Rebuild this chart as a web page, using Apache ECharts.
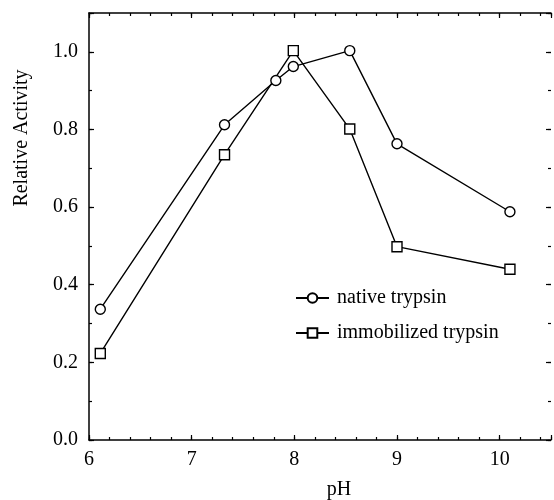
<!DOCTYPE html>
<html>
<head>
<meta charset="utf-8">
<script src="https://cdn.jsdelivr.net/npm/echarts@6/dist/echarts.min.js"></script>
<style>html,body{margin:0;padding:0;background:#fff}#c{width:554px;height:500px}</style>
</head>
<body>
<div id="c"></div>
<script>
var nativePH = [6.11, 7.32, 7.82, 7.99, 8.54, 9.0, 10.1];
var nativeActivity = [0.337, 0.812, 0.926, 0.962, 1.003, 0.763, 0.588];
var immobPH = [6.11, 7.32, 7.99, 8.54, 9.0, 10.1];
var immobActivity = [0.223, 0.735, 1.003, 0.801, 0.498, 0.44];
var seriesNames = ['native trypsin', 'immobilized trypsin'];
var xTitle = 'pH';
var yTitle = 'Relative Activity';

var FONT = '"Liberation Serif", "DejaVu Serif", serif';
function pairs(xs, ys) { return xs.map(function (x, i) { return [x, ys[i]]; }); }

function xAx(pos, interval, len, showLine, labels) {
  return {
    type: 'value', position: pos, min: 6, max: 10.5, interval: interval,
    axisLine: { show: showLine, onZero: false, lineStyle: { color: '#000', width: 1.5 } },
    axisTick: { show: true, inside: true, length: len, lineStyle: { color: '#000', width: 1.2 } },
    axisLabel: labels ? {
      show: true, margin: 10, color: '#000', fontFamily: FONT, fontSize: 20,
      formatter: function (v) { return v > 10.05 ? '' : String(Math.round(v)); }
    } : { show: false },
    splitLine: { show: false }
  };
}
function yAx(pos, interval, len, showLine, labels) {
  return {
    type: 'value', position: pos, min: 0, max: 1.1, interval: interval,
    axisLine: { show: showLine, onZero: false, lineStyle: { color: '#000', width: 1.5 } },
    axisTick: { show: true, inside: true, length: len, lineStyle: { color: '#000', width: 1.2 } },
    axisLabel: labels ? {
      show: true, margin: 11, color: '#000', fontFamily: FONT, fontSize: 20,
      formatter: function (v) { return v > 1.05 ? '' : v.toFixed(1); }
    } : { show: false },
    splitLine: { show: false }
  };
}

var chart = echarts.init(document.getElementById('c'), null, { renderer: 'canvas' });
chart.setOption({
  backgroundColor: '#fff',
  animation: false,
  grid: { left: 89, top: 13, right: 0, bottom: 60, containLabel: false },
  xAxis: [
    xAx('bottom', 1, 5, true, true),
    xAx('bottom', 0.2, 3, false, false),
    xAx('top', 1, 5, true, false),
    xAx('top', 0.2, 3, false, false)
  ],
  yAxis: [
    yAx('left', 0.2, 5, true, true),
    yAx('left', 0.1, 3, false, false),
    yAx('right', 0.2, 5, false, false),
    yAx('right', 0.1, 3, false, false)
  ],
  legend: {
    orient: 'vertical', left: 290, top: 283,
    itemWidth: 33, itemHeight: 12, itemGap: 15,
    data: seriesNames,
    textStyle: { color: '#000', fontFamily: FONT, fontSize: 20, padding: [0, 0, 0, 3] }
  },
  graphic: [
    { type: 'text', x: 22, y: 138, rotation: Math.PI / 2,
      style: { text: yTitle, fill: '#000', font: '20px ' + FONT, textAlign: 'center', textVerticalAlign: 'middle' } },
    { type: 'text', x: 339, y: 490,
      style: { text: xTitle, fill: '#000', font: '20px ' + FONT, textAlign: 'center', textVerticalAlign: 'middle' } }
  ],
  series: [
    { name: seriesNames[0], type: 'line', xAxisIndex: 0, yAxisIndex: 0,
      data: pairs(nativePH, nativeActivity),
      symbol: 'circle', symbolSize: 10,
      lineStyle: { color: '#000', width: 1.4 },
      itemStyle: { color: '#fff', borderColor: '#000', borderWidth: 1.4 } },
    { name: seriesNames[1], type: 'line', xAxisIndex: 0, yAxisIndex: 0,
      data: pairs(immobPH, immobActivity),
      symbol: 'rect', symbolSize: 10,
      lineStyle: { color: '#000', width: 1.4 },
      itemStyle: { color: '#fff', borderColor: '#000', borderWidth: 1.4 } }
  ]
});
</script>
</body>
</html>
